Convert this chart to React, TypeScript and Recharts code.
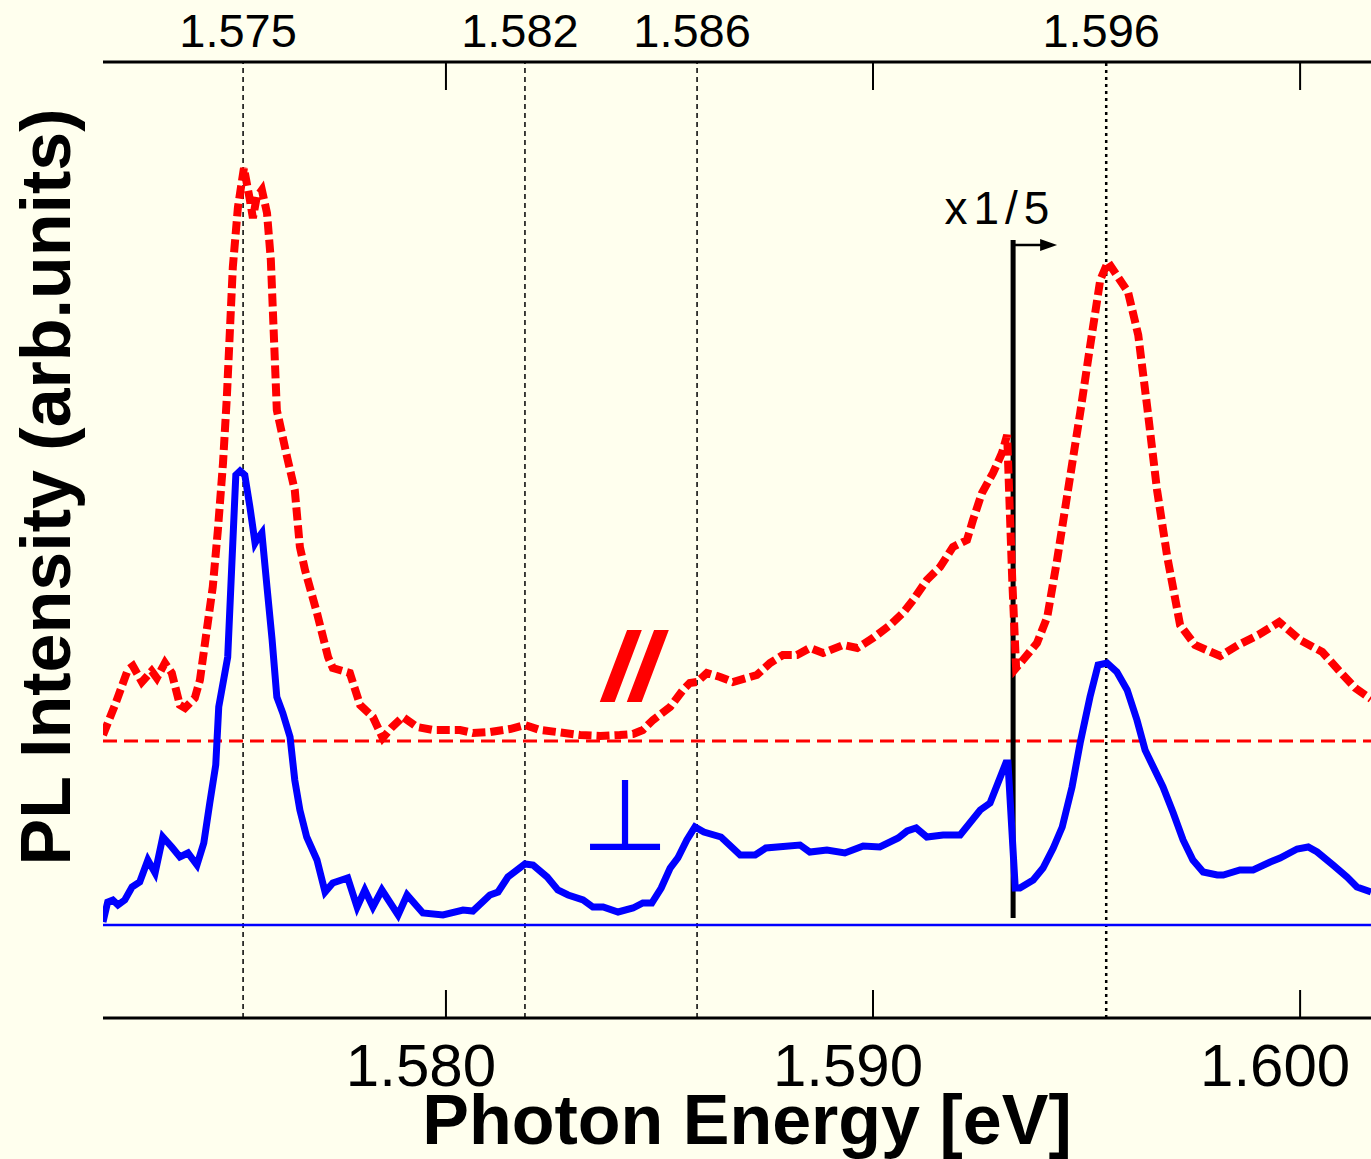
import React from 'react';
import { LineChart, Line, XAxis, YAxis, ReferenceLine, ReferenceDot } from 'recharts';

// Photon energy (eV) and PL intensity (arb. units) — parallel polarisation (red dashed)
const parallelEnergy = [
  1.57197, 1.57225, 1.57255, 1.57267, 1.57288, 1.57311, 1.57323, 1.57342, 1.57358, 1.57377,
  1.57389, 1.57412, 1.57424, 1.5744, 1.57454, 1.57466, 1.57478, 1.57487, 1.57501, 1.57513,
  1.57527, 1.57541, 1.57548, 1.57557, 1.57569, 1.57581, 1.5759, 1.57604, 1.57628, 1.57646,
  1.57658, 1.5767, 1.57698, 1.57724, 1.57735, 1.57775, 1.57799, 1.57829, 1.57852, 1.57874,
  1.57899, 1.57932, 1.5797, 1.58033, 1.58063, 1.58103, 1.5815, 1.58185, 1.5822, 1.5826,
  1.58314, 1.58361, 1.58407, 1.58438, 1.58461, 1.58485, 1.58525, 1.58555, 1.58571, 1.58588,
  1.58611, 1.58642, 1.58672, 1.58728, 1.58759, 1.58789, 1.58822, 1.58852, 1.58883, 1.5893,
  1.58963, 1.59, 1.5904, 1.5907, 1.59094, 1.59126, 1.59157, 1.59187, 1.5922, 1.59234,
  1.59255, 1.59281, 1.59302, 1.59314, 1.59326, 1.59335, 1.59351, 1.59384, 1.59408, 1.59431,
  1.59454, 1.59485, 1.59508, 1.59532, 1.5955, 1.59597, 1.59621, 1.59642, 1.59665, 1.59689,
  1.59719, 1.59754, 1.59813, 1.59855, 1.59902, 1.59951, 1.6, 1.60052, 1.60094, 1.60129,
  1.60166,
];
const parallelIntensity = [
  283, 313, 348, 352, 336, 347, 340, 355, 345, 313,
  310, 320, 338, 388, 431, 488, 555, 621, 751, 811,
  850, 818, 800, 821, 828, 805, 758, 608, 561, 528,
  471, 448, 405, 361, 350, 345, 313, 301, 280, 291,
  301, 291, 288, 288, 285, 286, 289, 293, 288, 286,
  283, 282, 283, 284, 288, 298, 311, 328, 335, 336,
  345, 341, 336, 343, 355, 363, 363, 370, 365, 373,
  370, 380, 393, 405, 418, 438, 451, 471, 478, 498,
  525, 545, 565, 583, 438, 350, 358, 375, 401, 458,
  521, 605, 671, 738, 756, 726, 683, 611, 528, 461,
  393, 373, 362, 373, 383, 396, 378, 366, 346, 330,
  319,
];

// Perpendicular polarisation (blue solid)
const perpEnergy = [
  1.57197, 1.57208, 1.5722, 1.57232, 1.57248, 1.57265, 1.57283, 1.57302, 1.57319, 1.57337,
  1.57358, 1.57377, 1.57396, 1.57417, 1.57433, 1.57447, 1.57461, 1.57468, 1.57489, 1.57508,
  1.57518, 1.57529, 1.57541, 1.57553, 1.57557, 1.57569, 1.57581, 1.57593, 1.57604, 1.57618,
  1.57635, 1.57646, 1.57658, 1.57674, 1.57698, 1.57717, 1.57735, 1.5777, 1.57792, 1.5781,
  1.57829, 1.5785, 1.57888, 1.57909, 1.57946, 1.57993, 1.5804, 1.58063, 1.58103, 1.58122,
  1.58145, 1.58185, 1.58204, 1.58237, 1.58262, 1.58286, 1.58321, 1.58344, 1.58368, 1.58403,
  1.58438, 1.58461, 1.58482, 1.58504, 1.58525, 1.58543, 1.58564, 1.58583, 1.58604, 1.58644,
  1.58689, 1.58724, 1.58749, 1.58829, 1.58852, 1.58892, 1.58934, 1.58977, 1.59016, 1.59059,
  1.5908, 1.59101, 1.59126, 1.59164, 1.59204, 1.59251, 1.59274, 1.59311, 1.59316, 1.59333,
  1.59344, 1.59375, 1.59398, 1.59422, 1.59443, 1.59466, 1.59485, 1.59508, 1.59527, 1.59548,
  1.59571, 1.59595, 1.59618, 1.59637, 1.59679, 1.59703, 1.59726, 1.59749, 1.59773, 1.59806,
  1.5982, 1.59859, 1.5989, 1.5993, 1.59953, 1.59993, 1.60019, 1.6004, 1.60077, 1.6011,
  1.60133, 1.60166,
];
const perpIntensity = [
  96, 116, 118, 113, 118, 131, 136, 158, 145, 181,
  171, 161, 165, 153, 175, 215, 253, 311, 361, 543,
  547, 543, 511, 475, 478, 485, 431, 378, 321, 305,
  281, 238, 208, 181, 158, 126, 135, 140, 111, 128,
  111, 128, 103, 123, 105, 103, 108, 107, 123, 126,
  141, 154, 153, 141, 128, 123, 118, 111, 111, 106,
  110, 115, 115, 130, 150, 160, 178, 191, 186, 181,
  163, 163, 170, 173, 166, 168, 165, 172, 171, 180,
  187, 190, 181, 183, 183, 208, 215, 255, 255, 130,
  130, 138, 150, 170, 191, 231, 275, 321, 353, 355,
  346, 328, 298, 268, 231, 205, 178, 158, 146, 143,
  143, 148, 148, 156, 160, 169, 171, 166, 153, 141,
  131, 126,
];

const energyTicks = [1.58, 1.59, 1.6];
const peakEnergies = [1.57525, 1.58185, 1.58588, 1.59546];
const peakLabels = ['1.575', '1.582', '1.586', '1.596'];
const parallelBaseline = 277;
const perpBaseline = 93;
const scaleMarkEnergy = 1.59328;
const scaleMarkRange = [100, 778];
const scaleArrowEnd = 1.59431;
const scaleText = 'x1/5';
const parallelText = '//';
const perpText = '\u22A5';
const xTitleText = 'Photon Energy [eV]';
const yTitleText = 'PL Intensity (arb.units)';

const parallelData = parallelEnergy.map((e, i) => ({ e, v: parallelIntensity[i] }));
const perpData = perpEnergy.map((e, i) => ({ e, v: perpIntensity[i] }));

const FONT = '"Liberation Sans", Arial, Helvetica, sans-serif';
const BG = '#FFFFEE';
const X_DOMAIN: [number, number] = [1.57197, 1.60166];
const Y_DOMAIN: [number, number] = [0, 956];

function BottomTick(props: any) {
  const { x, y, payload } = props;
  return (
    <g>
      <line x1={x} x2={x} y1={y} y2={y - 28} stroke="#000" strokeWidth={2} />
      <text x={x - 25} y={y + 68} textAnchor="middle" fontSize={60} fontFamily={FONT} fill="#000">
        {Number(payload.value).toFixed(3)}
      </text>
    </g>
  );
}

function TopTick(props: any) {
  const { x, y } = props;
  return <line x1={x} x2={x} y1={y} y2={y + 28} stroke="#000" strokeWidth={2} />;
}

const peakLabel = (text: string) => (props: any) => {
  const vb = props.viewBox || {};
  return (
    <text x={(vb.x ?? 0) - 5} y={(vb.y ?? 62) - 15} textAnchor="middle" fontSize={47} fontFamily={FONT} fill="#000">
      {text}
    </text>
  );
};

const xTitle = (props: any) => {
  const vb = props.viewBox || { x: 103, y: 1018, width: 1268 };
  return (
    <text x={vb.x + vb.width / 2 + 10} y={vb.y + 126} textAnchor="middle" fontSize={70} fontWeight="bold" fontFamily={FONT} fill="#000">
      {xTitleText}
    </text>
  );
};

export default function App() {
  return (
    <div style={{ position: 'absolute', left: 0, top: 0, width: 1371, height: 1159, background: BG }}>
      <LineChart width={1371} height={1159} margin={{ top: 32, right: 0, bottom: 0, left: 103 }} style={{ background: BG }}>
        <XAxis
          xAxisId="bottom"
          type="number"
          dataKey="e"
          domain={X_DOMAIN}
          allowDataOverflow
          ticks={energyTicks}
          interval={0}
          tick={<BottomTick />}
          tickLine={false}
          tickSize={0}
          tickMargin={0}
          axisLine={{ stroke: '#000', strokeWidth: 3 }}
          height={141}
          label={xTitle}
        />
        <XAxis
          xAxisId="top"
          orientation="top"
          type="number"
          dataKey="e"
          domain={X_DOMAIN}
          allowDataOverflow
          ticks={energyTicks}
          interval={0}
          tick={<TopTick />}
          tickLine={false}
          tickSize={0}
          tickMargin={0}
          axisLine={{ stroke: '#000', strokeWidth: 3 }}
          height={30}
        />
        <YAxis
          yAxisId="left"
          type="number"
          dataKey="v"
          domain={Y_DOMAIN}
          allowDataOverflow
          tick={false}
          tickLine={false}
          width={0}
          axisLine={{ stroke: '#000', strokeWidth: 3 }}
        />

        {peakEnergies.map((p, i) => (
          <ReferenceLine
            key={`peak-${i}`}
            xAxisId="bottom"
            yAxisId="left"
            x={p}
            stroke="#000"
            strokeWidth={i === 3 ? 2.5 : 1.5}
            strokeDasharray={i === 3 ? '3 4' : '5 4'}
            label={peakLabel(peakLabels[i])}
          />
        ))}

        <ReferenceLine xAxisId="bottom" yAxisId="left" y={parallelBaseline} stroke="#FF0000" strokeWidth={3} strokeDasharray="14 7" />
        <ReferenceLine xAxisId="bottom" yAxisId="left" y={perpBaseline} stroke="#0000FF" strokeWidth={2.5} />

        <ReferenceLine
          xAxisId="bottom"
          yAxisId="left"
          segment={[{ x: scaleMarkEnergy, y: scaleMarkRange[0] }, { x: scaleMarkEnergy, y: scaleMarkRange[1] }]}
          stroke="#000"
          strokeWidth={5}
          ifOverflow="visible"
        />
        <ReferenceLine
          xAxisId="bottom"
          yAxisId="left"
          segment={[{ x: scaleMarkEnergy, y: scaleMarkRange[1] - 5 }, { x: scaleArrowEnd - 0.0003, y: scaleMarkRange[1] - 5 }]}
          stroke="#000"
          strokeWidth={2.5}
          ifOverflow="visible"
        />
        <ReferenceDot
          xAxisId="bottom"
          yAxisId="left"
          x={scaleArrowEnd}
          y={scaleMarkRange[1] - 5}
          r={0}
          ifOverflow="visible"
          shape={(p: any) => (
            <polygon points={`${p.cx},${p.cy} ${p.cx - 17},${p.cy - 6} ${p.cx - 17},${p.cy + 6}`} fill="#000" />
          )}
        />
        <ReferenceDot
          xAxisId="bottom"
          yAxisId="left"
          x={1.59297}
          y={794}
          r={0}
          ifOverflow="visible"
          shape={(p: any) => (
            <text x={p.cx} y={p.cy} textAnchor="middle" fontSize={46} letterSpacing={6} fontFamily={FONT} fill="#000">
              {scaleText}
            </text>
          )}
        />
        <ReferenceDot
          xAxisId="bottom"
          yAxisId="left"
          x={1.58438}
          y={320}
          r={0}
          ifOverflow="visible"
          shape={(p: any) => (
            <text x={p.cx} y={p.cy} textAnchor="middle" fontSize={90} fontWeight="bold" fontStyle="italic" letterSpacing={2} fontFamily={FONT} fill="#FF0000" stroke="#FF0000" strokeWidth={4}>
              {parallelText}
            </text>
          )}
        />
        <ReferenceDot
          xAxisId="bottom"
          yAxisId="left"
          x={1.58419}
          y={168}
          r={0}
          ifOverflow="visible"
          shape={(p: any) => (
            <text x={p.cx} y={p.cy} textAnchor="middle" fontSize={100} fontFamily="DejaVu Sans" fill="#0000FF">
              {perpText}
            </text>
          )}
        />
        <ReferenceDot
          xAxisId="bottom"
          yAxisId="left"
          x={1.5712}
          y={531}
          r={0}
          ifOverflow="visible"
          shape={(p: any) => (
            <text
              x={p.cx}
              y={p.cy}
              transform={`rotate(-90 ${p.cx} ${p.cy})`}
              textAnchor="middle"
              fontSize={70}
              fontWeight="bold"
              fontFamily={FONT}
              fill="#000"
            >
              {yTitleText}
            </text>
          )}
        />

        <Line
          xAxisId="bottom"
          yAxisId="left"
          data={perpData}
          dataKey="v"
          type="linear"
          stroke="#0000FF"
          strokeWidth={7}
          dot={false}
          activeDot={false}
          isAnimationActive={false}
        />
        <Line
          xAxisId="bottom"
          yAxisId="left"
          data={parallelData}
          dataKey="v"
          type="linear"
          stroke="#FF0000"
          strokeWidth={8}
          strokeDasharray="13 5"
          dot={false}
          activeDot={false}
          isAnimationActive={false}
        />
      </LineChart>
    </div>
  );
}
